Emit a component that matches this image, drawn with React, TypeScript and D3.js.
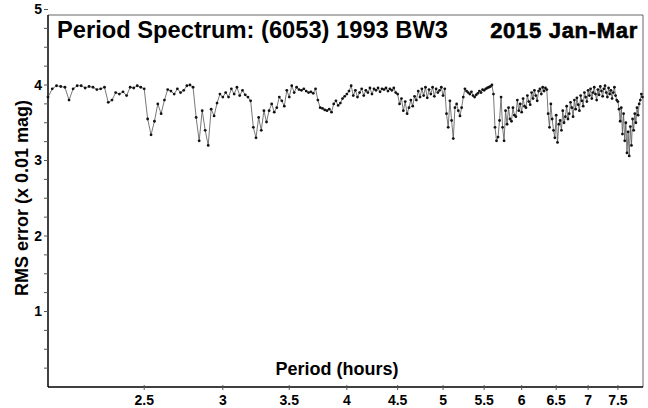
import React, { useEffect, useRef } from 'react';
import * as d3 from 'd3';

// period grid (hours)
const periodStart = 2.0;
const periodStep = 0.02;

// RMS error (x 0.01 mag), one value per period step
const rmsValues = [
  3.84, 3.95, 3.99, 3.98, 3.97, 3.80, 3.95, 3.99, 3.99, 3.96,
  3.98, 3.97, 3.94, 3.95, 3.97, 3.77, 3.80, 3.90, 3.88, 3.91,
  3.86, 3.97, 3.96, 3.99, 3.97, 3.95, 3.55, 3.34, 3.52, 3.75,
  3.62, 3.80, 3.94, 3.92, 3.88, 3.95, 3.90, 3.93, 3.99, 4.00,
  3.97, 3.57, 3.26, 3.66, 3.40, 3.20, 3.68, 3.59, 3.76, 3.88,
  3.84, 3.90, 3.84, 3.95, 3.88, 3.97, 3.86, 3.93, 3.87, 3.84,
  3.79, 3.44, 3.30, 3.57, 3.40, 3.66, 3.51, 3.66, 3.75, 3.64,
  3.70, 3.84, 3.79, 3.72, 3.93, 3.84, 3.99, 3.90, 3.97, 3.94,
  3.93, 3.95, 3.92, 3.90, 3.91, 3.89, 3.95, 3.80, 3.70, 3.69,
  3.67, 3.66, 3.68, 3.64, 3.75, 3.79, 3.73, 3.76, 3.82, 3.85,
  3.88, 3.92, 3.99, 3.86, 3.93, 3.84, 3.90, 3.95, 3.86, 3.93,
  3.90, 3.96, 3.88, 3.95, 3.93, 3.96, 3.91, 3.95, 3.94, 3.96,
  3.92, 3.95, 3.93, 3.96, 3.90, 3.88, 3.75, 3.82, 3.66, 3.78,
  3.62, 3.70, 3.80, 3.72, 3.85, 3.80, 3.92, 3.84, 3.95, 3.86,
  3.97, 3.83, 3.94, 3.88, 3.97, 3.85, 3.95, 3.90, 3.93, 3.97,
  3.86, 3.95, 3.62, 3.44, 3.79, 3.53, 3.29, 3.70, 3.75, 3.66,
  3.59, 3.70, 3.84, 3.95, 3.92, 3.90, 3.88, 3.91, 3.86, 3.84,
  3.87, 3.89, 3.92, 3.90, 3.94, 3.93, 3.95, 3.96, 3.97, 3.98,
  4.00, 3.88, 3.44, 3.26, 3.31, 3.53, 3.84, 3.44, 3.26, 3.66,
  3.48, 3.70, 3.55, 3.52, 3.70, 3.60, 3.58, 3.80, 3.66, 3.75,
  3.64, 3.82, 3.72, 3.70, 3.86, 3.78, 3.74, 3.90, 3.82, 3.93,
  3.86, 3.79, 3.92, 3.95, 3.88, 3.97, 3.92, 3.96, 3.94, 3.62,
  3.44, 3.75, 3.55, 3.40, 3.30, 3.60, 3.24, 3.48, 3.53, 3.40,
  3.66, 3.50, 3.58, 3.72, 3.55, 3.62, 3.77, 3.70, 3.58, 3.80,
  3.68, 3.83, 3.74, 3.66, 3.86, 3.79, 3.72, 3.90, 3.84, 3.78,
  3.93, 3.86, 3.95, 3.82, 3.90, 3.97, 3.88, 3.80, 3.94, 3.87,
  3.98, 3.92, 3.85, 3.95, 3.99, 3.90, 3.84, 3.96, 3.88, 3.93,
  3.82, 3.90, 3.97, 3.86, 3.80, 3.78, 3.68, 3.52, 3.70, 3.35,
  3.62, 3.26, 3.50, 3.10, 3.38, 3.06, 3.45, 3.20, 3.55, 3.40,
  3.62, 3.50, 3.70, 3.60, 3.75, 3.80, 3.88, 3.84,
];

const xTicks = [2.5, 3, 3.5, 4, 4.5, 5, 5.5, 6, 6.5, 7, 7.5];
const yTicks = [1, 2, 3, 4, 5];

const title = 'Period Spectrum: (6053) 1993 BW3';
const dateLabel = '2015 Jan-Mar';

export default function App() {
  const svgRef = useRef<SVGSVGElement>(null);
  const width = 648;
  const height = 408;

  useEffect(() => {
    const svg = d3.select(svgRef.current);
    svg.selectAll('*').remove();

    const font = '"Liberation Sans", Arial, sans-serif';
    const left = 48, right = 643, top = 15, bottom = 387;

    const x = d3.scaleLog().domain([2, 7.95]).range([left, right]);
    const y = d3.scaleLinear().domain([0, 5]).range([bottom, 9.5]);

    const data = rmsValues.map((v, i) => [periodStart + i * periodStep, v] as [number, number]);

    // frame
    svg.append('line').attr('x1', left).attr('x2', right).attr('y1', top).attr('y2', top)
      .attr('stroke', '#666').attr('stroke-width', 1);
    svg.append('line').attr('x1', right).attr('x2', right).attr('y1', top).attr('y2', bottom)
      .attr('stroke', '#666').attr('stroke-width', 1);
    svg.append('line').attr('x1', left).attr('x2', left).attr('y1', top).attr('y2', bottom)
      .attr('stroke', '#000').attr('stroke-width', 1.5);
    svg.append('line').attr('x1', left).attr('x2', right).attr('y1', bottom).attr('y2', bottom)
      .attr('stroke', '#000').attr('stroke-width', 1.5);

    // y ticks (minor every 0.25)
    svg.append('g').selectAll('line')
      .data(d3.range(0.25, 5.01, 0.25))
      .join('line')
      .attr('x1', left - 4).attr('x2', left)
      .attr('y1', d => y(d)).attr('y2', d => y(d))
      .attr('stroke', '#555').attr('stroke-width', 1);

    svg.append('g').selectAll('text')
      .data(yTicks)
      .join('text')
      .attr('x', left - 6).attr('y', d => y(d))
      .attr('dy', '0.35em')
      .attr('text-anchor', 'end')
      .attr('font-family', font).attr('font-weight', 'bold').attr('font-size', 14)
      .text(d => d);

    // x ticks
    svg.append('g').selectAll('line')
      .data(xTicks)
      .join('line')
      .attr('x1', d => x(d)).attr('x2', d => x(d))
      .attr('y1', bottom - 2).attr('y2', bottom + 3)
      .attr('stroke', '#555').attr('stroke-width', 1);

    svg.append('g').selectAll('text')
      .data(xTicks)
      .join('text')
      .attr('x', d => x(d)).attr('y', 405)
      .attr('text-anchor', 'middle')
      .attr('font-family', font).attr('font-weight', 'bold').attr('font-size', 14)
      .text(d => d);

    // spectrum line + points
    const line = d3.line<[number, number]>()
      .x(d => x(d[0]))
      .y(d => y(d[1]));

    svg.append('path')
      .datum(data)
      .attr('fill', 'none')
      .attr('stroke', '#555')
      .attr('stroke-width', 0.8)
      .attr('d', line);

    svg.append('g').selectAll('circle')
      .data(data)
      .join('circle')
      .attr('cx', d => x(d[0])).attr('cy', d => y(d[1]))
      .attr('r', 1.4)
      .attr('fill', '#111');

    // titles
    svg.append('text')
      .attr('x', 57).attr('y', 38)
      .attr('font-family', font).attr('font-weight', 'bold').attr('font-size', 23.7)
      .text(title);

    svg.append('text')
      .attr('x', 638).attr('y', 38)
      .attr('text-anchor', 'end')
      .attr('font-family', font).attr('font-weight', 'bold').attr('font-size', 22)
      .attr('letter-spacing', 0.7)
      .attr('stroke', '#000').attr('stroke-width', 0.6)
      .text(dateLabel);

    svg.append('text')
      .attr('x', 337).attr('y', 375)
      .attr('text-anchor', 'middle')
      .attr('font-family', font).attr('font-weight', 'bold').attr('font-size', 18)
      .text('Period (hours)');

    svg.append('text')
      .attr('transform', 'translate(28,198) rotate(-90)')
      .attr('text-anchor', 'middle')
      .attr('font-family', font).attr('font-weight', 'bold').attr('font-size', 18)
      .text('RMS error (x 0.01 mag)');
  }, []);

  return (
    <svg
      ref={svgRef}
      width={width}
      height={height}
      style={{ position: 'absolute', left: 0, top: 0, background: '#fff' }}
    />
  );
}
